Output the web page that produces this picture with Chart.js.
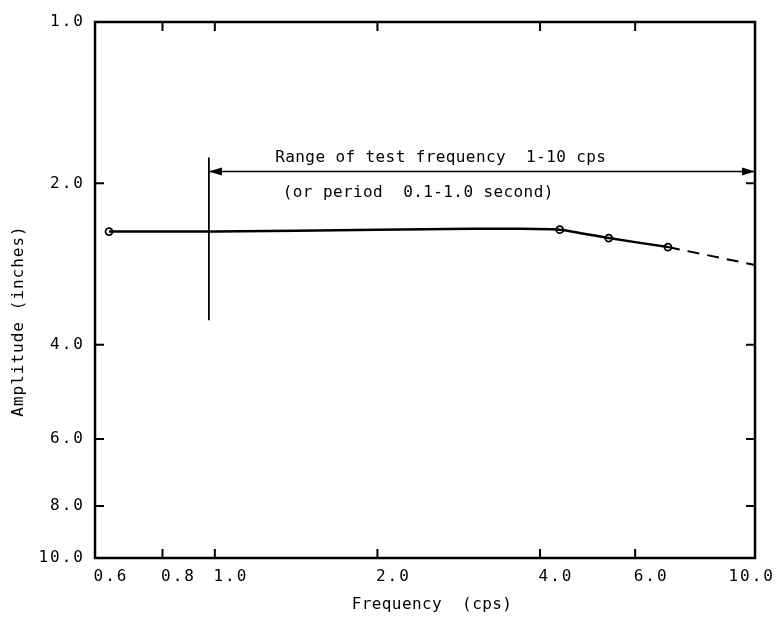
<!DOCTYPE html>
<html>
<head>
<meta charset="utf-8">
<script src="https://cdn.jsdelivr.net/npm/chart.js@4.4.1/dist/chart.umd.min.js"></script>
<style>
html, body { margin: 0; padding: 0; background: #fff; }
</style>
</head>
<body>
<canvas id="myChart" width="781" height="625"></canvas>
<script>
// axis ticks
const xTicks = [0.6, 0.8, 1.0, 2.0, 4.0, 6.0, 10.0];
const yTicks = [1.0, 2.0, 4.0, 6.0, 8.0, 10.0];

// measured response (solid part of curve)
const freqSolid = [0.637, 1.0, 2.0, 3.0, 3.6, 4.35, 5.36, 6.9];
const ampSolid = [2.46, 2.46, 2.44, 2.43, 2.43, 2.44, 2.53, 2.63];
// extrapolated part (dashed)
const freqDashed = [6.9, 10.0];
const ampDashed = [2.63, 2.84];
// test points (open circles)
const freqPoints = [0.637, 4.35, 5.36, 6.9];
const ampPoints = [2.46, 2.44, 2.53, 2.63];

// test range marker
const rangeLineX = [0.975, 0.975];
const rangeLineY = [1.79, 3.6];
const arrowX = [0.975, 10.0];
const arrowY = [1.9, 1.9];

const FONT = '"DejaVu Sans Mono", "Liberation Mono", monospace';

function pts(xs, ys) {
    return xs.map((x, i) => ({ x: x, y: ys[i] }));
}

const paperPlugin = {
    id: 'paper',
    afterDraw(chart) {
        const ctx = chart.ctx;
        const a = chart.chartArea;
        const xs = chart.scales.x;
        const ys = chart.scales.y;
        ctx.save();
        ctx.strokeStyle = '#000';
        ctx.fillStyle = '#000';

        // frame
        ctx.lineWidth = 2.5;
        ctx.strokeRect(a.left, a.top, a.right - a.left, a.bottom - a.top);

        // inward ticks
        ctx.lineWidth = 2;
        ctx.beginPath();
        xTicks.slice(1, -1).forEach(v => {
            const px = xs.getPixelForValue(v);
            ctx.moveTo(px, a.bottom); ctx.lineTo(px, a.bottom - 9);
            ctx.moveTo(px, a.top); ctx.lineTo(px, a.top + 9);
        });
        yTicks.slice(1, -1).forEach(v => {
            const py = ys.getPixelForValue(v);
            ctx.moveTo(a.left, py); ctx.lineTo(a.left + 9, py);
            ctx.moveTo(a.right, py); ctx.lineTo(a.right - 9, py);
        });
        ctx.stroke();

        // tick labels
        ctx.font = '16px ' + FONT;
        ctx.letterSpacing = '2px';
        ctx.textBaseline = 'middle';
        ctx.textAlign = 'center';
        xTicks.forEach(v => {
            const label = v.toFixed(1);
            const half = ctx.measureText(label).width / 2;
            let px = xs.getPixelForValue(v) + 16;
            px = Math.min(px, chart.width - half - 6);
            ctx.fillText(label, px, a.bottom + 19);
        });
        ctx.textAlign = 'right';
        yTicks.forEach(v => {
            ctx.fillText(v.toFixed(1), a.left - 10, ys.getPixelForValue(v));
        });

        // axis titles
        ctx.font = '16px ' + FONT;
        ctx.letterSpacing = '0.4px';
        ctx.textAlign = 'center';
        ctx.fillText('Frequency  (cps)', 432, 605);
        ctx.save();
        ctx.translate(19, 321);
        ctx.rotate(-Math.PI / 2);
        ctx.letterSpacing = '1px';
        ctx.fillText('Amplitude (inches)', 0, 0);
        ctx.restore();

        // annotation text
        ctx.fillText('Range of test frequency  1-10 cps', xs.getPixelForValue(2.62), ys.getPixelForValue(1.79));
        ctx.fillText('(or period  0.1-1.0 second)', xs.getPixelForValue(2.38), ys.getPixelForValue(2.08));

        // arrow heads
        const y0 = ys.getPixelForValue(arrowY[0]);
        const xl = xs.getPixelForValue(arrowX[0]);
        const xr = xs.getPixelForValue(arrowX[1]);
        ctx.beginPath();
        ctx.moveTo(xl, y0); ctx.lineTo(xl + 13, y0 - 4); ctx.lineTo(xl + 13, y0 + 4); ctx.closePath();
        ctx.moveTo(xr, y0); ctx.lineTo(xr - 13, y0 - 4); ctx.lineTo(xr - 13, y0 + 4); ctx.closePath();
        ctx.fill();

        ctx.restore();
    }
};

const ctx = document.getElementById('myChart').getContext('2d');
const chart = new Chart(ctx, {
    type: 'line',
    data: {
        datasets: [
            {
                label: 'Amplitude',
                data: pts(freqSolid, ampSolid),
                borderColor: '#000',
                borderWidth: 2.5,
                pointRadius: 0,
                tension: 0.2
            },
            {
                label: 'Extrapolated',
                data: pts(freqDashed, ampDashed),
                borderColor: '#000',
                borderWidth: 2,
                borderDash: [12, 8],
                pointRadius: 0
            },
            {
                label: 'Test points',
                data: pts(freqPoints, ampPoints),
                showLine: false,
                pointRadius: 3.5,
                pointBackgroundColor: '#fff',
                pointBorderColor: '#000',
                pointBorderWidth: 1.8
            },
            {
                label: 'Range start',
                data: pts(rangeLineX, rangeLineY),
                borderColor: '#000',
                borderWidth: 1.8,
                pointRadius: 0
            },
            {
                label: 'Range arrow',
                data: pts(arrowX, arrowY),
                borderColor: '#000',
                borderWidth: 1.5,
                pointRadius: 0
            }
        ]
    },
    options: {
        responsive: false,
        animation: false,
        events: [],
        clip: false,
        layout: { padding: { left: 95, right: 26, top: 22, bottom: 67 } },
        plugins: {
            legend: { display: false },
            tooltip: { enabled: false }
        },
        scales: {
            x: {
                type: 'logarithmic',
                min: 0.6,
                max: 10,
                display: false
            },
            y: {
                type: 'logarithmic',
                min: 1,
                max: 10,
                reverse: true,
                display: false
            }
        }
    },
    plugins: [paperPlugin]
});
</script>
</body>
</html>
